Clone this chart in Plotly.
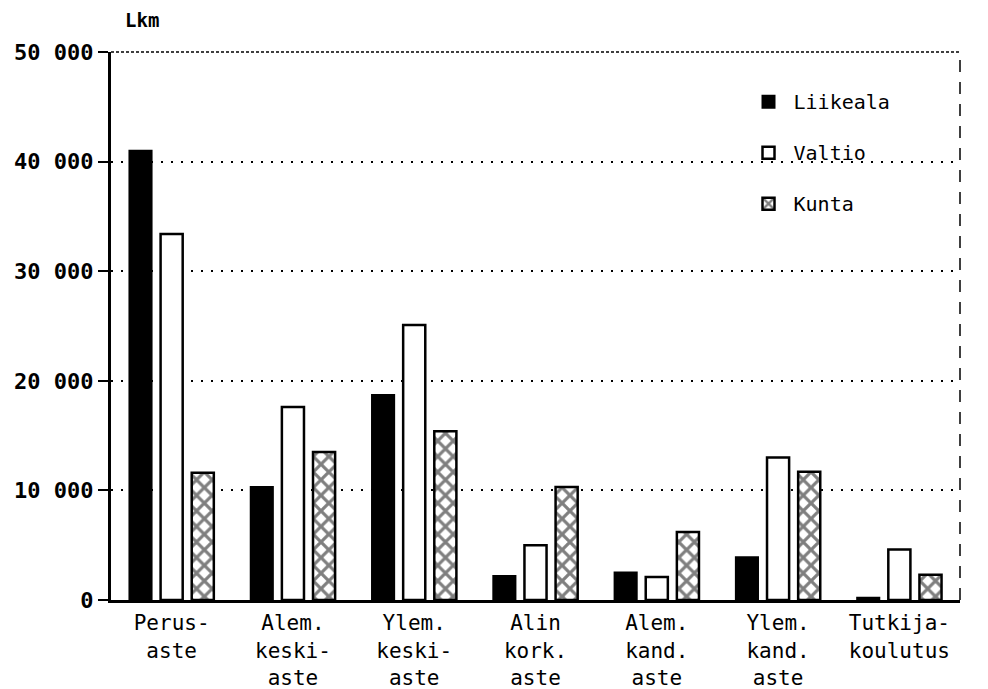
import plotly.graph_objects as go

# Koulutusaste categories (x axis)
categories = [
    "Perus-<br>aste",
    "Alem.<br>keski-<br>aste",
    "Ylem.<br>keski-<br>aste",
    "Alin<br>kork.<br>aste",
    "Alem.<br>kand.<br>aste",
    "Ylem.<br>kand.<br>aste",
    "Tutkija-<br>koulutus",
]

# Counts per sector (Lkm)
liikeala = [41000, 10300, 18700, 2200, 2500, 3900, 200]
valtio = [33400, 17600, 25100, 5000, 2100, 13000, 4600]
kunta = [11600, 13500, 15400, 10300, 6200, 11700, 2300]

y_ticks = [0, 10000, 20000, 30000, 40000, 50000]
y_tick_labels = ["0", "10 000", "20 000", "30 000", "40 000", "50 000"]

MONO = "DejaVu Sans Mono"

fig = go.Figure()

fig.add_trace(go.Bar(
    x=categories, y=liikeala, name="Liikeala", legendgroup="l",
    marker=dict(color="black", line=dict(color="black", width=2)),
))
fig.add_trace(go.Bar(
    x=categories, y=valtio, name="Valtio", legendgroup="v",
    marker=dict(color="white", line=dict(color="black", width=2.5)),
))
fig.add_trace(go.Bar(
    x=categories, y=kunta, name="Kunta", legendgroup="k",
    marker=dict(
        color="white",
        line=dict(color="black", width=2.5),
        pattern=dict(shape="x", fgcolor="black", bgcolor="white",
                     size=11, solidity=0.5),
    ),
))

# page body adds 8px offset, so figure is a bit smaller than the window
fig.update_layout(
    width=980,
    height=681,
    margin=dict(l=103, r=28, t=44, b=89),
    paper_bgcolor="white",
    plot_bgcolor="white",
    barmode="group",
    bargap=0.23,
    bargroupgap=0.29,
    font=dict(family=MONO, color="black"),
    showlegend=True,
    legend=dict(
        x=0.745, y=0.945, xanchor="left", yanchor="top",
        font=dict(family=MONO, size=20, color="black"),
        bgcolor="rgba(0,0,0,0)",
        tracegroupgap=22,
        itemwidth=40,
    ),
    xaxis=dict(
        range=[-0.5, 6.5],
        showline=True, linecolor="black", linewidth=3,
        ticks="", showgrid=False,
        tickfont=dict(family=MONO, size=21, color="black"),
        ticklabelstandoff=2,
        automargin=False,
    ),
    yaxis=dict(
        range=[0, 50000],
        tickvals=y_ticks, ticktext=y_tick_labels,
        showline=True, linecolor="black", linewidth=3,
        ticks="outside", ticklen=10, tickwidth=2, tickcolor="black",
        tickfont=dict(family=MONO, size=22, color="black", weight="bold"),
        showgrid=True, gridcolor="black", gridwidth=1.5,
        griddash="2px,8px",
        zeroline=False,
        automargin=False,
    ),
)

# top and right frame (broken lines in the original)
fig.add_shape(type="line", xref="paper", yref="paper", x0=0, x1=1, y0=1, y1=1,
              line=dict(color="black", width=1.5, dash="3px,2px"))
fig.add_shape(type="line", xref="paper", yref="paper", x0=1, x1=1, y0=0, y1=1,
              line=dict(color="black", width=1.5, dash="12px,10px"))

fig.add_annotation(
    text="Lkm", xref="paper", yref="paper", x=0.014, y=1.058,
    xanchor="left", yanchor="middle", showarrow=False,
    font=dict(family=MONO, size=19, color="black", weight="bold"),
)

fig.write_html("out.html")
